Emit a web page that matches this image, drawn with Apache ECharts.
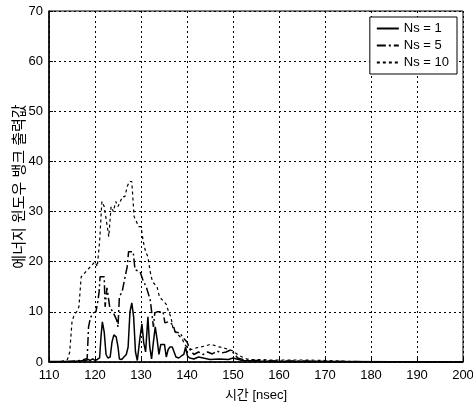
<!DOCTYPE html>
<html>
<head>
<meta charset="utf-8">
<script src="https://cdn.jsdelivr.net/npm/echarts@6/dist/echarts.min.js"></script>
<style>
html,body{margin:0;padding:0;background:#fff;}
#chart{width:473px;height:411px;}
</style>
</head>
<body>
<div id="chart"></div>
<script>
// x tick labels / y tick range
var xTicks = [110, 120, 130, 140, 150, 160, 170, 180, 190, 200];
var yTicks = [0, 10, 20, 30, 40, 50, 60, 70];
var seriesNames = ['Ns = 1', 'Ns = 5', 'Ns = 10'];

// Ns = 1 (solid)
var x1 = [110, 115, 118, 118.5, 119, 119.5, 120, 120.5, 121, 121.3, 121.6, 122, 122.4, 122.8, 123.3, 123.7, 124.1, 124.6, 125, 125.3, 125.8, 126.3, 126.8, 127.2, 127.6, 128, 128.4, 128.8, 129.2, 129.5, 129.8, 130.2, 130.6, 131, 131.5, 131.9, 132.3, 132.7, 133.1, 133.5, 133.9, 134.3, 134.7, 135.1, 135.5, 135.9, 136.3, 136.8, 137.2, 137.6, 138.2, 138.8, 139.3, 139.7, 140.1, 140.6, 141.5, 142.5, 143.5, 145, 147, 149, 150, 152, 155, 160, 170, 200];
var y1 = [0.1, 0.1, 0.3, 0.5, 0.3, 0.6, 0.3, 0.5, 0.8, 5, 8, 6, 1.5, 0.8, 1, 4, 5.4, 5, 3, 0.6, 0.5, 1, 1.5, 3, 10, 11.8, 9, 2, 0.3, 0, 5, 7.6, 3.8, 2, 9, 3, 0.6, 4, 7, 4.5, 1.5, 3.5, 3.8, 3.5, 1, 2.5, 3, 3, 2.8, 1, 0.8, 1.2, 1.5, 3, 1.2, 0.8, 0.6, 1, 0.8, 0.5, 0.6, 0.5, 0.8, 0.3, 0.2, 0.1, 0.1, 0];

// Ns = 5 (dash-dot)
var x5 = [110, 114, 117, 118.3, 118.6, 119, 119.6, 120.2, 120.6, 120.9, 121.1, 122, 122.2, 122.6, 123.2, 124, 124.7, 125, 125.3, 125.9, 126.5, 127, 127.3, 128.3, 128.7, 129.8, 130.4, 131.2, 132, 132.4, 132.7, 133, 133.5, 134.1, 134.8, 135.2, 135.9, 137, 137.4, 138.5, 139, 140, 140.7, 141.5, 142.5, 143.5, 144.5, 145.5, 146.5, 147.5, 148.5, 149.5, 150.3, 151, 152.6, 155, 160, 165, 170, 200];
var y5 = [0, 0.1, 0.3, 0.7, 7, 8.8, 9.8, 10, 12, 14, 17, 17, 11, 14.8, 11, 9.8, 8.4, 7, 13, 14, 16.8, 19, 22, 22, 18.4, 18, 16.4, 14.8, 12.4, 9.4, 7, 9.8, 10, 10, 10, 7.8, 8, 7.4, 6, 5.8, 5, 4, 2.4, 1.5, 2, 1.5, 2, 1.6, 2.2, 1.8, 2, 2.4, 1.6, 0.8, 0.4, 0.3, 0.2, 0.2, 0.1, 0];

// Ns = 10 (dashed)
var x10 = [110, 112, 113, 114, 114.5, 115, 115.5, 116, 116.5, 117, 118, 119, 120, 120.5, 121, 121.5, 122, 122.5, 123, 123.5, 124, 124.5, 125, 125.5, 126, 126.5, 127, 127.5, 128, 128.5, 129, 129.5, 130, 130.5, 131, 131.5, 132, 132.5, 133, 133.5, 134, 134.5, 135, 135.5, 136, 136.5, 137, 137.5, 138, 138.5, 139, 139.5, 140, 141, 142, 143, 144, 145, 146, 147, 148, 149, 150, 151, 152, 153, 154, 156, 158, 160, 165, 170, 173, 175, 180, 190, 200];
var y10 = [0, 0, 0.2, 0.5, 2, 8, 9.5, 10, 11, 17, 18, 19, 20, 19, 24, 32, 31, 28, 25, 31, 30, 32, 31, 32, 33, 33, 35, 36, 36, 29, 28, 27, 27, 24, 22, 21, 18, 16, 15.5, 15, 13, 12.5, 12, 11.5, 10, 9, 6.5, 6, 5.5, 5, 4.5, 3.5, 3, 2.5, 2.8, 3, 3.2, 3.5, 3.3, 3, 2.8, 2.5, 2.2, 1.5, 1, 0.6, 0.5, 0.5, 0.4, 0.4, 0.4, 0.3, 0.2, 0.1, 0.1, 0.1, 0];

function zip(xs, ys) {
  var n = Math.min(xs.length, ys.length), out = [];
  for (var i = 0; i < n; i++) out.push([xs[i], ys[i]]);
  return out;
}

var FONT = '"Liberation Sans", "Noto Sans CJK KR", sans-serif';
var chart = echarts.init(document.getElementById('chart'), null, {renderer: 'canvas'});
chart.setOption({
  animation: false,
  backgroundColor: '#fff',
  grid: {left: 49, right: 10, top: 11, bottom: 49, containLabel: false, outerBoundsMode: 'none',
         show: true, borderColor: '#000', borderWidth: 1, backgroundColor: 'transparent'},
  legend: {
    orient: 'vertical',
    right: 16, top: 17,
    backgroundColor: '#fff',
    borderColor: '#000', borderWidth: 1,
    padding: [5, 8, 5, 6],
    itemGap: 4,
    itemWidth: 22, itemHeight: 10,
    itemStyle: {opacity: 0},
    textStyle: {fontFamily: FONT, fontSize: 13, color: '#000'},
    data: seriesNames
  },
  xAxis: {
    type: 'value', min: xTicks[0], max: xTicks[xTicks.length - 1], interval: 10,
    name: '시간 [nsec]', nameLocation: 'middle', nameGap: 27, nameMoveOverlap: false,
    nameTextStyle: {fontFamily: FONT, fontSize: 13, color: '#000'},
    axisLine: {show: true, lineStyle: {color: '#000', width: 1.5}},
    axisTick: {show: true, inside: true, length: 4, lineStyle: {color: '#000'}},
    axisLabel: {fontFamily: FONT, fontSize: 13, color: '#000', margin: 7},
    splitLine: {show: true, lineStyle: {color: '#000', type: [2, 3], width: 1}}
  },
  yAxis: {
    type: 'value', min: yTicks[0], max: yTicks[yTicks.length - 1], interval: 10,
    name: '에너지 윈도우 뱅크 출력값', nameLocation: 'middle', nameGap: 22, nameRotate: 90,
    nameMoveOverlap: false,
    nameTextStyle: {fontFamily: FONT, fontSize: 15, color: '#000'},
    axisLine: {show: true, lineStyle: {color: '#000', width: 1.5}},
    axisTick: {show: true, inside: true, length: 4, lineStyle: {color: '#000'}},
    axisLabel: {fontFamily: FONT, fontSize: 13, color: '#000', margin: 6},
    splitLine: {show: true, lineStyle: {color: '#000', type: [2, 3], width: 1}}
  },
  series: [
    {name: seriesNames[0], type: 'line', data: zip(x1, y1), showSymbol: false, symbol: 'none',
     lineStyle: {color: '#000', width: 1.5, type: 'solid'}, itemStyle: {color: '#000'}},
    {name: seriesNames[1], type: 'line', data: zip(x5, y5), showSymbol: false, symbol: 'none',
     lineStyle: {color: '#000', width: 1.5, type: [9, 3, 2, 3]}, itemStyle: {color: '#000'}},
    {name: seriesNames[2], type: 'line', data: zip(x10, y10), showSymbol: false, symbol: 'none',
     lineStyle: {color: '#000', width: 1.2, type: [3, 3]}, itemStyle: {color: '#000'}}
  ]
});
</script>
</body>
</html>
